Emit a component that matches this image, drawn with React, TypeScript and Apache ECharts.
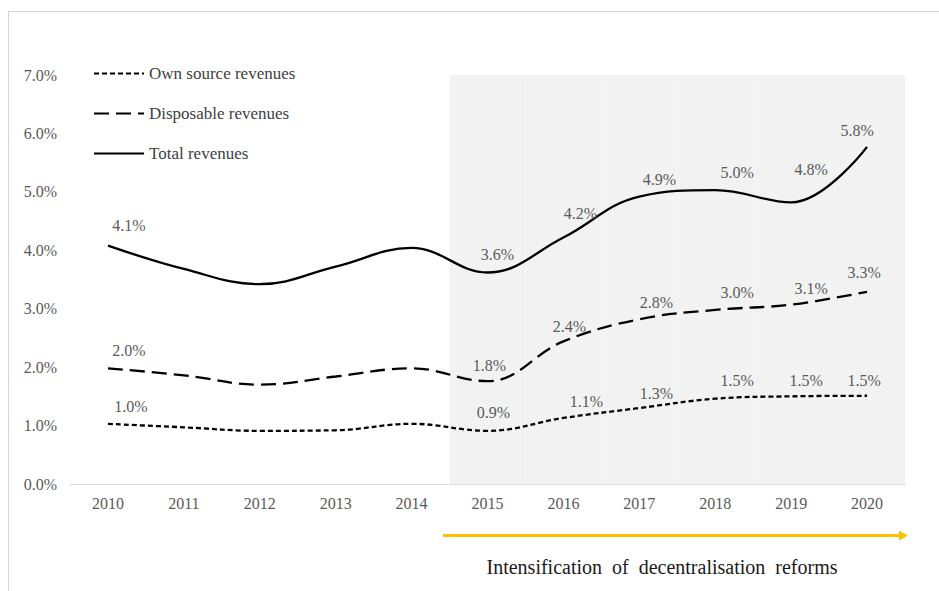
import React, { useEffect, useRef } from "react";
import * as echarts from "echarts";

const years = ["2010", "2011", "2012", "2013", "2014", "2015", "2016", "2017", "2018", "2019", "2020"];
const ownSource = [1.03, 0.97, 0.91, 0.92, 1.03, 0.91, 1.13, 1.3, 1.46, 1.5, 1.51];
const disposable = [1.98, 1.86, 1.7, 1.84, 1.98, 1.76, 2.44, 2.82, 2.98, 3.07, 3.29];
const total = [4.08, 3.68, 3.42, 3.72, 4.04, 3.62, 4.22, 4.92, 5.03, 4.82, 5.77];
const yTicks = [0, 1, 2, 3, 4, 5, 6, 7];
const labeledYears = ["2010", "2015", "2016", "2017", "2018", "2019", "2020"];
const reformYears = ["2015", "2016", "2017", "2018", "2019", "2020"];
const reformText = "Intensification  of  decentralisation  reforms";

// label offsets (style only), by year
const totalOffsets: Record<string, number[]> = {
  "2010": [21, -20], "2015": [10, -18], "2016": [17, -24], "2017": [20, -17],
  "2018": [22, -18], "2019": [20, -33], "2020": [-10, -16],
};
const dispOffsets: Record<string, number[]> = {
  "2010": [21, -18], "2015": [2, -16], "2016": [6, -15], "2017": [17, -17],
  "2018": [22, -17], "2019": [20, -16], "2020": [-3, -19],
};
const ownOffsets: Record<string, number[]> = {
  "2010": [23, -17], "2015": [6, -18], "2016": [23, -16], "2017": [17, -15],
  "2018": [22, -18], "2019": [15, -16], "2020": [-3, -15],
};

const FONT = "'Liberation Serif', 'Times New Roman', serif";

function buildData(values: number[], offsets: Record<string, number[]>) {
  return values.map((v, i) => {
    const y = years[i];
    const show = labeledYears.includes(y);
    const off = offsets[y] || [0, 0];
    return {
      value: v,
      label: {
        show,
        position: "top",
        distance: 0,
        offset: [off[0], off[1] + 8],
      },
    };
  });
}

export default function App() {
  const ref = useRef<HTMLDivElement>(null);
  useEffect(() => {
    document.body.style.margin = "0";
    const chart = echarts.init(ref.current!, undefined, { renderer: "svg" });
    const labelStyle = {
      color: "#595959",
      fontSize: 16,
      fontFamily: FONT,
      formatter: (p: any) => p.value.toFixed(1) + "%",
    };
    const lineCommon = {
      type: "line",
      smooth: 0.4,
      symbol: "circle",
      symbolSize: 0,
      showSymbol: true,
      itemStyle: { color: "#000" },
      label: labelStyle,
      z: 3,
    };
    chart.setOption({
      animation: false,
      backgroundColor: "#ffffff",
      grid: { left: 70, right: 34, top: 75, bottom: 107 },
      xAxis: {
        type: "category",
        data: years,
        boundaryGap: true,
        axisLine: { lineStyle: { color: "#d9d9d9", width: 1 } },
        axisTick: { show: false },
        axisLabel: { color: "#595959", fontSize: 16, fontFamily: FONT, margin: 11 },
      },
      yAxis: {
        type: "value",
        min: yTicks[0],
        max: yTicks[yTicks.length - 1],
        interval: 1,
        axisLine: { show: false },
        axisTick: { show: false },
        splitLine: { show: false },
        axisLabel: {
          color: "#595959",
          fontSize: 16,
          fontFamily: FONT,
          margin: 13,
          formatter: (v: number) => v.toFixed(1) + "%",
        },
      },
      legend: {
        data: ["Own source revenues", "Disposable revenues", "Total revenues"],
        orient: "vertical",
        left: 88,
        top: 60,
        itemWidth: 50,
        itemHeight: 14,
        itemGap: 23,
        itemStyle: { opacity: 0 },
        textStyle: { color: "#404040", fontSize: 17, fontFamily: FONT, lineHeight: 17 },
      },
      series: [
        {
          name: "shade",
          type: "bar",
          data: years.map((y) => (reformYears.includes(y) ? yTicks[yTicks.length - 1] : null)),
          barCategoryGap: "0%",
          itemStyle: { color: "#f2f2f2" },
          silent: true,
          z: 0,
        },
        {
          ...lineCommon,
          name: "Own source revenues",
          data: buildData(ownSource, ownOffsets),
          lineStyle: { color: "#000", width: 2.3, type: [5, 3] },
        },
        {
          ...lineCommon,
          name: "Disposable revenues",
          data: buildData(disposable, dispOffsets),
          lineStyle: { color: "#000", width: 2.3, type: [15, 7] },
        },
        {
          ...lineCommon,
          name: "Total revenues",
          data: buildData(total, totalOffsets),
          lineStyle: { color: "#000", width: 2.3 },
        },
      ],
      graphic: [
        { type: "line", shape: { x1: 8.5, y1: 11, x2: 8.5, y2: 591 }, style: { stroke: "#d4d4d4", lineWidth: 1 } },
        { type: "line", shape: { x1: 8, y1: 11.5, x2: 939, y2: 11.5 }, style: { stroke: "#d4d4d4", lineWidth: 1 } },
        { type: "line", shape: { x1: 443, y1: 535.5, x2: 901, y2: 535.5 }, style: { stroke: "#FFC000", lineWidth: 3 } },
        { type: "polygon", shape: { points: [[899, 530.5], [908, 535.5], [899, 540.5]] }, style: { fill: "#FFC000" } },
        {
          type: "text",
          x: 662,
          y: 567,
          style: {
            text: reformText,
            fill: "#1a1a1a",
            fontSize: 20,
            fontFamily: FONT,
            align: "center",
            verticalAlign: "middle",
          },
        },
      ],
    });
    return () => chart.dispose();
  }, []);
  return <div ref={ref} style={{ position: "fixed", left: 0, top: 0, width: 939, height: 591 }} />;
}
